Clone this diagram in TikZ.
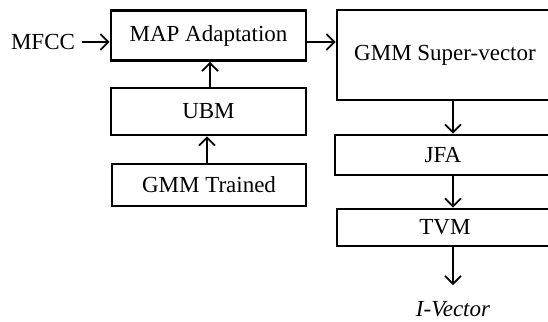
\documentclass[tikz,border=0pt]{standalone}
\usepackage{fontspec}
\setmainfont{Liberation Serif}
\usetikzlibrary{arrows.meta,positioning}

\begin{document}
\begin{tikzpicture}[x=0.5pt,y=-0.5pt,->,>={Straight Barb[length=4pt,width=8pt]},
    line width=0.85pt,font=\fontsize{11.5}{14}\selectfont]
        \tikzset{block/.style={draw,-,line width=1.35pt,inner sep=0pt}}
        \useasboundingbox (0,0) rectangle (548,322);

        \node[block,minimum width=97.5pt,minimum height=25pt] (map)  at (208.5,35.5) {MAP Adaptation};
        \node[block,minimum width=97.5pt,minimum height=23.5pt] (ubm) at (208.5,111.5) {UBM};
        \node[block,minimum width=97pt,minimum height=21pt]  (gmmt) at (209,185)    {GMM Trained};
        \node[block,minimum width=108pt,minimum height=45pt] (sv)   at (445,55)     {GMM Super-vector};
        \node[block,minimum width=108pt,minimum height=20pt] (jfa)  at (443,155)    {JFA};
        \node[block,minimum width=108pt,minimum height=18.5pt] (tvm) at (445,227.5) {TVM};
        \node (mfcc) at (43,42)  {MFCC};
        \node (ivec) at (453,309) {\itshape I-Vector};
        \coordinate (col) at (453,0);
        \coordinate (out) at (453,285);

        \draw (mfcc.east) -- (mfcc.east -| map.west);
        \draw (map.east |- mfcc.east) -- (sv.west |- mfcc.east);
        \draw (ubm.north -| 210,0) -- (map.south -| 210,0);
        \draw (gmmt.north -| 207,0) -- (ubm.south -| 207,0);
        \draw (sv.south -| col) -- (jfa.north -| col);
        \draw (jfa.south -| col) -- (tvm.north -| col);
        \draw (tvm.south -| col) -- (out);
    \end{tikzpicture}
\end{document}
